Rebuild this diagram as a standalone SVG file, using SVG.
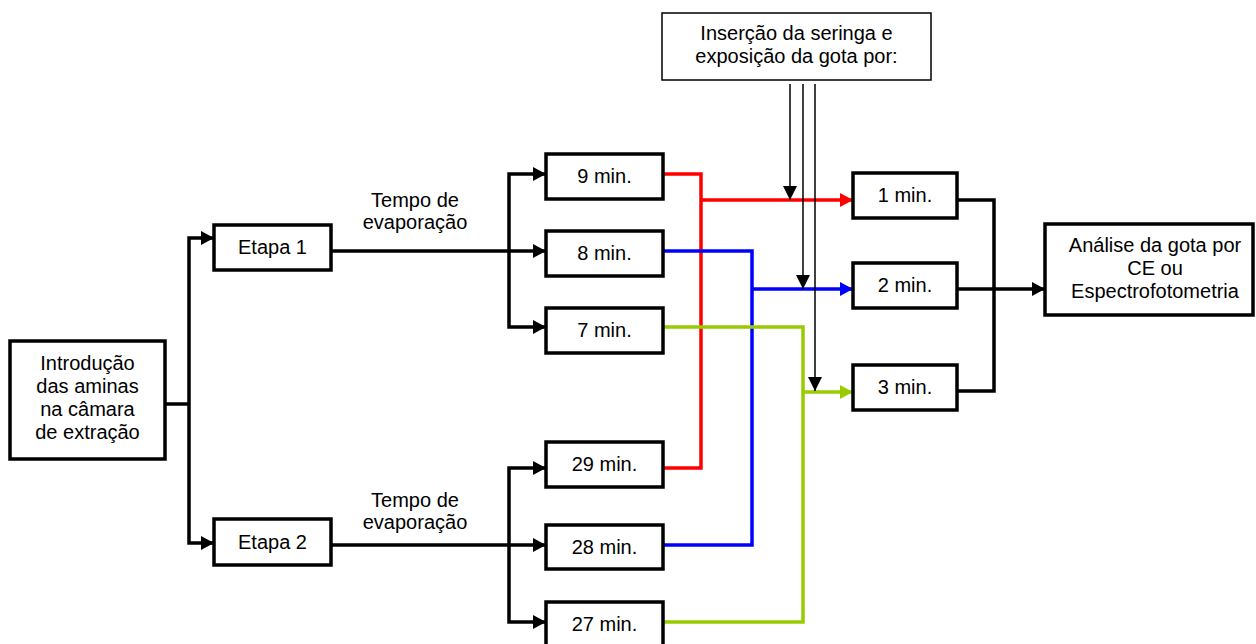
<svg xmlns="http://www.w3.org/2000/svg" width="1256" height="644" viewBox="0 0 1256 644">
<style>
text{font-family:"Liberation Sans",Arial,sans-serif;font-size:20px;fill:#000;text-anchor:middle}
.box{fill:#fff;stroke:#000;stroke-width:3.5}
.thinbox{fill:#fff;stroke:#000;stroke-width:1.5}
.c{fill:none;stroke-width:3.5;stroke-linejoin:miter}
.k{stroke:#000}.r{stroke:#ff0000}.b{stroke:#0000ff}.g{stroke:#99cc00}
.t{fill:none;stroke:#000;stroke-width:1.5}
</style>
<defs>
<marker id="ak" markerUnits="userSpaceOnUse" markerWidth="14" markerHeight="14" refX="13" refY="7" orient="auto"><path d="M0,0 L13,7 L0,14 z" fill="#000"/></marker>
<marker id="ar" markerUnits="userSpaceOnUse" markerWidth="14" markerHeight="14" refX="13" refY="7" orient="auto"><path d="M0,0 L13,7 L0,14 z" fill="#ff0000"/></marker>
<marker id="ab" markerUnits="userSpaceOnUse" markerWidth="14" markerHeight="14" refX="13" refY="7" orient="auto"><path d="M0,0 L13,7 L0,14 z" fill="#0000ff"/></marker>
<marker id="ag" markerUnits="userSpaceOnUse" markerWidth="14" markerHeight="14" refX="13" refY="7" orient="auto"><path d="M0,0 L13,7 L0,14 z" fill="#99cc00"/></marker>
<marker id="at" markerUnits="userSpaceOnUse" markerWidth="14" markerHeight="14" refX="14" refY="7" orient="auto"><path d="M0,0 L14,7 L0,14 z" fill="#000"/></marker>
</defs>
<g id="connectors">
<path class="c k" d="M165,404 H189"/>
<path class="c k" d="M189,404 V238 H214" marker-end="url(#ak)"/>
<path class="c k" d="M189,404 V543 H214" marker-end="url(#ak)"/>
<path class="c k" d="M331,251 H546" marker-end="url(#ak)"/>
<path class="c k" d="M509,251 V174 H546" marker-end="url(#ak)"/>
<path class="c k" d="M509,251 V327 H546" marker-end="url(#ak)"/>
<path class="c k" d="M331,545 H546" marker-end="url(#ak)"/>
<path class="c k" d="M509,545 V468 H546" marker-end="url(#ak)"/>
<path class="c k" d="M509,545 V622 H546" marker-end="url(#ak)"/>
<path class="c r" d="M663,174 H701 V468 H663"/>
<path class="c r" d="M701,200 H853" marker-end="url(#ar)"/>
<path class="c b" d="M663,251 H752 V545 H663"/>
<path class="c b" d="M752,289 H853" marker-end="url(#ab)"/>
<path class="c g" d="M663,327 H803 V622 H663"/>
<path class="c g" d="M803,392 H853" marker-end="url(#ag)"/>
<path class="t" d="M790,84 V200" marker-end="url(#at)"/>
<path class="t" d="M803,84 V289" marker-end="url(#at)"/>
<path class="t" d="M815,84 V391" marker-end="url(#at)"/>
<path class="c k" d="M957,200 H994 V391 H957"/>
<path class="c k" d="M957,289 H1045" marker-end="url(#ak)"/>
</g>
<g id="intro"><rect class="box" x="10" y="341" width="155" height="118"/>
<text x="87.5" y="370">Introdução</text><text x="87.5" y="393">das aminas</text><text x="87.5" y="416">na câmara</text><text x="87.5" y="439">de extração</text></g>
<g id="etapa1"><rect class="box" x="214" y="225" width="117" height="45"/><text x="272.5" y="254">Etapa 1</text></g>
<g id="etapa2"><rect class="box" x="214" y="519" width="117" height="46"/><text x="272.5" y="549">Etapa 2</text></g>
<g id="tempo1"><text x="415" y="207">Tempo de</text><text x="415" y="229">evaporação</text></g>
<g id="tempo2"><text x="415" y="507">Tempo de</text><text x="415" y="529">evaporação</text></g>
<g id="m9"><rect class="box" x="546" y="154" width="117" height="45"/><text x="604.5" y="183">9 min.</text></g>
<g id="m8"><rect class="box" x="546" y="231" width="117" height="45"/><text x="604.5" y="260">8 min.</text></g>
<g id="m7"><rect class="box" x="546" y="308" width="117" height="45"/><text x="604.5" y="337">7 min.</text></g>
<g id="m29"><rect class="box" x="546" y="442" width="117" height="45"/><text x="604.5" y="471">29 min.</text></g>
<g id="m28"><rect class="box" x="546" y="525" width="117" height="44"/><text x="604.5" y="554">28 min.</text></g>
<g id="m27"><rect class="box" x="546" y="602" width="117" height="45"/><text x="604.5" y="631">27 min.</text></g>
<g id="insercao"><rect class="thinbox" x="662" y="13" width="269" height="67"/><text x="796.5" y="40">Inserção da seringa e</text><text x="796.5" y="63">exposição da gota por:</text></g>
<g id="m1"><rect class="box" x="853" y="173" width="104" height="45"/><text x="905" y="202">1 min.</text></g>
<g id="m2"><rect class="box" x="853" y="263" width="104" height="45"/><text x="905" y="292">2 min.</text></g>
<g id="m3"><rect class="box" x="853" y="365" width="104" height="45"/><text x="905" y="394">3 min.</text></g>
<g id="analise"><rect class="box" x="1045" y="224" width="208" height="91"/><text x="1155" y="252">Análise da gota por</text><text x="1155" y="275">CE ou</text><text x="1155" y="298">Espectrofotometria</text></g>
</svg>
